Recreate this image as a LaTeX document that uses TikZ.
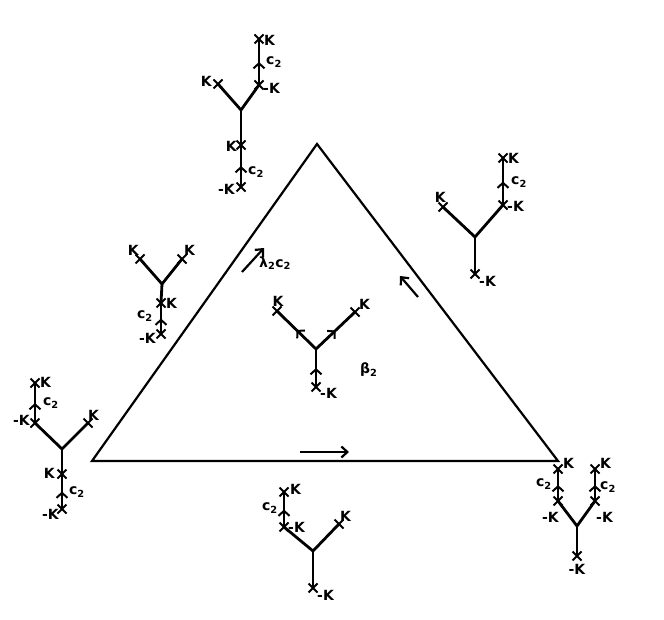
\documentclass[tikz,border=0pt]{standalone}
\usepackage{fontspec}
\setmainfont{DejaVu Sans}
\usetikzlibrary{arrows.meta,decorations.markings,shapes.misc}
\tikzset{
  tri/.style={line width=2.2pt},
  br/.style={line width=2.8pt},
  xm/.style={cross out,draw,line width=2pt,minimum size=7pt,inner sep=0pt},
  midarr/.style={postaction={decorate,decoration={markings,mark=at position 0.5 with {\arrow{Straight Barb[length=5pt,width=11pt,line width=2pt]}}}}},
  lab/.style={inner sep=0pt,font=\fontsize{14}{14}\selectfont\bfseries},
  sidearr/.style={line width=2.2pt,-{Straight Barb[length=6pt,width=11pt]}}
}
\begin{document}
\begin{tikzpicture}[x=1pt,y=-1pt]
\useasboundingbox (0,0) rectangle (664,620);
% triangle
\coordinate (A) at (317,144);
\coordinate (B) at (92,461);
\coordinate (C) at (558,461);
\draw[tri,line join=miter] (A) -- (B) -- (C) -- cycle;
% side arrows
\coordinate (ab1) at (300,452); \coordinate (ab2) at (349,452);
\draw[sidearr] (ab1) -- (ab2);
\coordinate (al1) at (242,272); \coordinate (al2) at (264,248);
\draw[sidearr] (al1) -- (al2);
\coordinate (ar1) at (418,297); \coordinate (ar2) at (400,276);
\draw[sidearr] (ar1) -- (ar2);
\node[lab,anchor=west] (llab) at (259,263) {λ\textsubscript{2}c\textsubscript{2}};
\node[lab,anchor=west] (blab) at (360,370) {β\textsubscript{2}};

% ---- tree 1 (top)
\coordinate (t1j) at (241,110);
\node[xm] (t1l) at (218,84) {};
\node[xm] (t1r) at (259,85) {};
\node[xm] (t1t) at (259,39) {};
\node[xm] (t1m) at (241,145) {};
\node[xm] (t1b) at (241,187) {};
\draw[br] (t1l.center) -- (t1j) -- (t1r.center);
\draw[br,midarr] (t1r.center) -- (t1t.center);
\draw[br] (t1j) -- (t1m.center);
\draw[br,midarr] (t1b.center) -- (t1m.center);
\node[lab,anchor=east] (t1ll) at (212,81) {K};
\node[lab,anchor=west] (t1rl) at (263,88) {-K};
\node[lab,anchor=west] (t1tl) at (264,40) {K};
\node[lab,anchor=west] (t1cl) at (266,62) {c\textsubscript{2}};
\node[lab,anchor=east] (t1ml) at (237,146) {K};
\node[lab,anchor=west] (t1cl2) at (248,172) {c\textsubscript{2}};
\node[lab,anchor=east] (t1bl) at (235,189) {-K};

% ---- tree 2 (top right)
\coordinate (t2j) at (475,237);
\node[xm] (t2l) at (443,207) {};
\node[xm] (t2r) at (503,205) {};
\node[xm] (t2t) at (503,158) {};
\node[xm] (t2b) at (475,274) {};
\draw[br] (t2l.center) -- (t2j) -- (t2r.center);
\draw[br,midarr] (t2r.center) -- (t2t.center);
\draw[br] (t2j) -- (t2b.center);
\node[lab,anchor=south east] (t2ll) at (446,203) {K};
\node[lab,anchor=west] (t2rl) at (507,206) {-K};
\node[lab,anchor=west] (t2tl) at (508,158) {K};
\node[lab,anchor=west] (t2cl) at (511,182) {c\textsubscript{2}};
\node[lab,anchor=west] (t2bl) at (479,281) {-K};

% ---- tree 3 (left middle)
\coordinate (t3j) at (162,284);
\node[xm] (t3l) at (140,259) {};
\node[xm] (t3r) at (182,259) {};
\node[xm] (t3m) at (161,303) {};
\node[xm] (t3b) at (161,334) {};
\draw[br] (t3l.center) -- (t3j) -- (t3r.center);
\draw[br] (t3j) -- (t3m.center);
\draw[br,midarr] (t3b.center) -- (t3m.center);
\node[lab,anchor=south east] (t3ll) at (139,256) {K};
\node[lab,anchor=south west] (t3rl) at (184,256) {K};
\node[lab,anchor=west] (t3ml) at (166,303) {K};
\node[lab,anchor=east] (t3cl) at (153,316) {c\textsubscript{2}};
\node[lab,anchor=east] (t3bl) at (156,338) {-K};

% ---- tree 4 (far left)
\coordinate (t4j) at (62,449);
\node[xm] (t4l) at (35,423) {};
\node[xm] (t4r) at (88,423) {};
\node[xm] (t4t) at (35,383) {};
\node[xm] (t4m) at (62,474) {};
\node[xm] (t4b) at (62,509) {};
\draw[br] (t4l.center) -- (t4j) -- (t4r.center);
\draw[br,midarr] (t4l.center) -- (t4t.center);
\draw[br] (t4j) -- (t4m.center);
\draw[br,midarr] (t4b.center) -- (t4m.center);
\node[lab,anchor=west] (t4tl) at (40,382) {K};
\node[lab,anchor=west] (t4cl) at (43,403) {c\textsubscript{2}};
\node[lab,anchor=east] (t4ll) at (30,420) {-K};
\node[lab,anchor=south west] (t4rl) at (88,421) {K};
\node[lab,anchor=east] (t4ml) at (55,473) {K};
\node[lab,anchor=west] (t4cl2) at (69,492) {c\textsubscript{2}};
\node[lab,anchor=east] (t4bl) at (59,514) {-K};

% ---- center tree
\coordinate (t5j) at (316,349);
\node[xm] (t5l) at (277,311) {};
\node[xm] (t5r) at (355,312) {};
\node[xm] (t5b) at (316,387) {};
\draw[br,midarr] (t5j) -- (t5l.center);
\draw[br,midarr] (t5j) -- (t5r.center);
\draw[br,midarr] (t5b.center) -- (t5j);
\node[lab,anchor=south] (t5ll) at (278,307) {K};
\node[lab,anchor=west] (t5rl) at (359,304) {K};
\node[lab,anchor=west] (t5bl) at (320,393) {-K};

% ---- bottom tree
\coordinate (t6j) at (313,551);
\node[xm] (t6l) at (284,527) {};
\node[xm] (t6r) at (339,524) {};
\node[xm] (t6t) at (284,492) {};
\node[xm] (t6b) at (313,588) {};
\draw[br] (t6l.center) -- (t6j) -- (t6r.center);
\draw[br,midarr] (t6l.center) -- (t6t.center);
\draw[br] (t6j) -- (t6b.center);
\node[lab,anchor=west] (t6tl) at (290,489) {K};
\node[lab,anchor=east] (t6cl) at (278,508) {c\textsubscript{2}};
\node[lab,anchor=west] (t6ll) at (288,527) {-K};
\node[lab,anchor=south west] (t6rl) at (340,522) {K};
\node[lab,anchor=west] (t6bl) at (317,595) {-K};

% ---- bottom right tree
\coordinate (t7j) at (577,526);
\node[xm] (t7l) at (558,501) {};
\node[xm] (t7r) at (595,501) {};
\node[xm] (t7a) at (558,469) {};
\node[xm] (t7c) at (595,469) {};
\node[xm] (t7b) at (577,556) {};
\draw[br] (t7l.center) -- (t7j) -- (t7r.center);
\draw[br,midarr] (t7l.center) -- (t7a.center);
\draw[br,midarr] (t7r.center) -- (t7c.center);
\draw[br] (t7j) -- (t7b.center);
\node[lab,anchor=west] (t7al) at (563,463) {K};
\node[lab,anchor=west] (t7cl) at (600,463) {K};
\node[lab,anchor=east] (t7acl) at (552,484) {c\textsubscript{2}};
\node[lab,anchor=west] (t7ccl) at (600,487) {c\textsubscript{2}};
\node[lab,anchor=east] (t7ll) at (559,517) {-K};
\node[lab,anchor=west] (t7rl) at (596,517) {-K};
\node[lab,anchor=north] (t7bl) at (577,564) {-K};
\end{tikzpicture}
\end{document}
